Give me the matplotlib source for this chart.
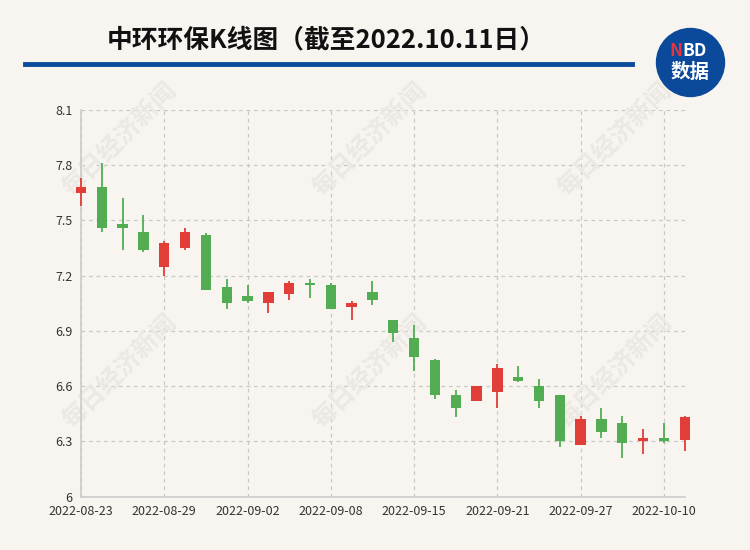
import matplotlib.pyplot as plt
from matplotlib.patches import Ellipse

plt.rcParams['font.family'] = ['Noto Sans CJK SC', 'DejaVu Sans']

# 交易日
dates = ['2022-08-23', '2022-08-24', '2022-08-25', '2022-08-26', '2022-08-29',
         '2022-08-30', '2022-08-31', '2022-09-01', '2022-09-02', '2022-09-05',
         '2022-09-06', '2022-09-07', '2022-09-08', '2022-09-09', '2022-09-13',
         '2022-09-14', '2022-09-15', '2022-09-16', '2022-09-19', '2022-09-20',
         '2022-09-21', '2022-09-22', '2022-09-23', '2022-09-26', '2022-09-27',
         '2022-09-28', '2022-09-29', '2022-09-30', '2022-10-10', '2022-10-11']
opens = [7.65, 7.68, 7.48, 7.44, 7.25, 7.35, 7.42, 7.14, 7.09, 7.05,
         7.10, 7.16, 7.15, 7.03, 7.11, 6.96, 6.86, 6.74, 6.55, 6.52,
         6.57, 6.65, 6.60, 6.55, 6.28, 6.42, 6.40, 6.30, 6.32, 6.31]
closes = [7.68, 7.46, 7.46, 7.34, 7.38, 7.44, 7.12, 7.05, 7.06, 7.11,
          7.16, 7.15, 7.02, 7.05, 7.07, 6.89, 6.76, 6.55, 6.48, 6.60,
          6.70, 6.63, 6.52, 6.30, 6.42, 6.35, 6.29, 6.32, 6.30, 6.43]
highs = [7.73, 7.81, 7.62, 7.53, 7.39, 7.46, 7.43, 7.18, 7.15, 7.11,
         7.17, 7.18, 7.16, 7.06, 7.17, 6.96, 6.93, 6.75, 6.58, 6.60,
         6.72, 6.71, 6.64, 6.55, 6.44, 6.48, 6.44, 6.37, 6.40, 6.44]
lows = [7.58, 7.44, 7.34, 7.33, 7.20, 7.34, 7.12, 7.02, 7.05, 7.00,
        7.07, 7.08, 7.02, 6.96, 7.04, 6.84, 6.68, 6.53, 6.43, 6.52,
        6.48, 6.62, 6.48, 6.27, 6.28, 6.32, 6.21, 6.23, 6.29, 6.25]

up_color = '#e03e36'
down_color = '#52ad52'
bg = '#f8f5f0'
blue = '#0b4a9a'

fig = plt.figure(figsize=(7.5, 5.5), dpi=100, facecolor=bg)
ax = fig.add_axes([0.108, 0.097, 0.805, 0.703], facecolor=bg)

x = list(range(len(dates)))
colors = [up_color if c >= o else down_color for o, c in zip(opens, closes)]
ax.vlines(x, lows, highs, colors=colors, lw=1.3, zorder=3, clip_on=False)
ax.bar(x, [abs(c - o) for o, c in zip(opens, closes)],
       bottom=[min(o, c) for o, c in zip(opens, closes)],
       width=0.5, color=colors, zorder=4, clip_on=False)

ax.set_xlim(0, len(dates) - 1)
ax.set_ylim(6, 8.1)
ax.set_yticks([6, 6.3, 6.6, 6.9, 7.2, 7.5, 7.8, 8.1])
ax.set_yticklabels(['6', '6.3', '6.6', '6.9', '7.2', '7.5', '7.8', '8.1'])
ax.set_xticks(x[::4])
ax.set_xticklabels(dates[::4])
ax.tick_params(length=0, labelsize=9, colors='#333333', pad=6)
ax.grid(True, color='#c8c8c8', linestyle=(0, (3, 3)), lw=0.9)
ax.set_axisbelow(True)
for s in ['top', 'right']:
    ax.spines[s].set_visible(False)
for s in ['left', 'bottom']:
    ax.spines[s].set_color('#cccccc')
    ax.spines[s].set_linewidth(1.2)

# 水印 (放在蜡烛下面)
for wx, wy in [(120, 140), (370, 140), (615, 140), (120, 372), (370, 372), (615, 372)]:
    ax.text(wx / 750, 1 - wy / 550, '每日经济新闻', rotation=45, fontsize=18,
            fontweight='bold', color='#ece9e4', ha='center', va='center',
            transform=fig.transFigure, zorder=1)

# 标题
fig.text(326 / 750, 1 - 40 / 550, '中环环保K线图（截至2022.10.11日）',
         fontsize=18.5, fontweight='bold', color='#111111', ha='center', va='center')
fig.add_artist(plt.Line2D([25 / 750, 632 / 750], [1 - 64 / 550, 1 - 64 / 550],
                          color=blue, lw=3.5))

# logo
logo = Ellipse((690.5 / 750, 1 - 62.5 / 550), 68 / 750, 68 / 550,
               transform=fig.transFigure, color=blue, zorder=5)
fig.add_artist(logo)
fig.text(682 / 750, 1 - 51 / 550, 'N', fontsize=12.5, fontweight='bold',
         color='#e8343a', ha='right', va='center', zorder=6)
fig.text(682 / 750, 1 - 51 / 550, 'BD', fontsize=12.5, fontweight='bold',
         color='white', ha='left', va='center', zorder=6)
fig.text(690 / 750, 1 - 72 / 550, '数据', fontsize=14, fontweight='bold',
         color='white', ha='center', va='center', zorder=6)

plt.savefig('out.png', dpi=100, facecolor=bg)
